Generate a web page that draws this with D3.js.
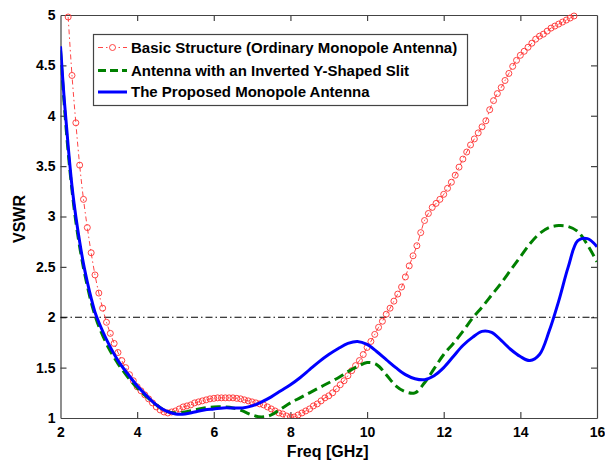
<!DOCTYPE html>
<html>
<head>
<meta charset="utf-8">
<script src="https://cdn.jsdelivr.net/npm/d3@7"></script>
<style>
  body { margin: 0; background: #fff; }
  svg { display: block; }
  text { font-family: "Liberation Sans", Arial, sans-serif; font-weight: bold; fill: #000; }
</style>
</head>
<body>
<svg id="chart" width="605" height="463"></svg>
<script>
// Basic structure (red circles), sampled every 0.1 GHz from 2.2 to 15.4
const basicFreq = d3.range(22, 155).map(d => d / 10);
const basicVswr = [
  4.98, 4.40, 3.93, 3.51, 3.17, 2.89, 2.64, 2.42, 2.24, 2.09,
  1.95, 1.84, 1.74, 1.65, 1.57, 1.50, 1.43, 1.37, 1.31, 1.27,
  1.23, 1.19, 1.15, 1.11, 1.08, 1.06, 1.05, 1.06, 1.07, 1.09,
  1.11, 1.12, 1.13, 1.15, 1.16, 1.17, 1.18, 1.19, 1.195, 1.20,
  1.20, 1.20, 1.20, 1.20, 1.195, 1.19, 1.18, 1.17, 1.16, 1.15,
  1.14, 1.13, 1.11, 1.09, 1.07, 1.05, 1.04, 1.02, 1.01, 1.01,
  1.03, 1.05, 1.07, 1.09, 1.12, 1.14, 1.17, 1.20, 1.22, 1.25,
  1.29, 1.33, 1.37, 1.42, 1.47, 1.52, 1.57, 1.63, 1.70, 1.76,
  1.83, 1.90, 1.96, 2.03, 2.09, 2.16, 2.23, 2.30, 2.40, 2.51,
  2.61, 2.71, 2.84, 2.96, 3.03, 3.09, 3.13, 3.17, 3.22, 3.28,
  3.34, 3.41, 3.49, 3.57, 3.64, 3.71, 3.77, 3.83, 3.89, 3.95,
  4.06, 4.15, 4.22, 4.28, 4.35, 4.42, 4.49, 4.55, 4.60, 4.64,
  4.68, 4.72, 4.76, 4.79, 4.81, 4.84, 4.87, 4.89, 4.91, 4.93,
  4.95, 4.97, 4.99
];

// Slit antenna (green dashed) and proposed antenna (blue)
const freq = [2.0, 2.1, 2.2, 2.3, 2.4, 2.5, 2.6, 2.7, 2.8, 2.9, 3.0,
  3.25, 3.5, 3.75, 4.0, 4.25, 4.5, 4.75, 5.0, 5.25, 5.5, 5.75, 6.0,
  6.25, 6.5, 6.75, 7.0, 7.25, 7.5, 7.75, 8.0, 8.25, 8.5, 8.75, 9.0,
  9.25, 9.5, 9.75, 10.0, 10.25, 10.5, 10.75, 11.0, 11.25, 11.5, 11.75, 12.0,
  12.25, 12.5, 12.75, 13.0, 13.25, 13.5, 13.75, 14.0, 14.25, 14.5, 14.75, 15.0,
  15.25, 15.5, 15.75, 16.0];
const slitVswr = [4.65, 4.10, 3.64, 3.26, 2.95, 2.70, 2.49, 2.31, 2.15, 2.02, 1.91,
  1.70, 1.54, 1.41, 1.30, 1.21, 1.13, 1.07, 1.05, 1.06, 1.08, 1.10, 1.11,
  1.11, 1.10, 1.07, 1.03, 1.01, 1.03, 1.09, 1.15, 1.20, 1.25, 1.30, 1.35,
  1.40, 1.46, 1.51, 1.55, 1.53, 1.43, 1.32, 1.26, 1.25, 1.35, 1.49, 1.63,
  1.74, 1.86, 1.99, 2.10, 2.22, 2.34, 2.47, 2.60, 2.73, 2.83, 2.89, 2.91,
  2.90, 2.85, 2.72, 2.55];
const proposedVswr = [4.69, 4.15, 3.70, 3.30, 3.00, 2.75, 2.53, 2.35, 2.19, 2.05, 1.95,
  1.74, 1.57, 1.44, 1.32, 1.22, 1.13, 1.07, 1.04, 1.04, 1.06, 1.08, 1.09,
  1.10, 1.10, 1.10, 1.12, 1.16, 1.21, 1.27, 1.33, 1.40, 1.48, 1.56, 1.63,
  1.69, 1.74, 1.76, 1.73, 1.66, 1.58, 1.50, 1.43, 1.39, 1.38, 1.42, 1.50,
  1.61, 1.72, 1.80, 1.86, 1.85, 1.77, 1.68, 1.61, 1.57, 1.63, 1.86, 2.16,
  2.50, 2.76, 2.78, 2.70];

const xTicks = [2, 4, 6, 8, 10, 12, 14, 16];
const yTicks = [1, 1.5, 2, 2.5, 3, 3.5, 4, 4.5, 5];
const refLevel = 2;
const legendLabels = [
  "Basic Structure (Ordinary Monopole Antenna)",
  "Antenna with an Inverted Y-Shaped Slit",
  "The Proposed Monopole Antenna"
];

const basicData = basicFreq.map((f, i) => ({ x: f, y: basicVswr[i] }));
const slitData = freq.map((f, i) => ({ x: f, y: slitVswr[i] }));
const proposedData = freq.map((f, i) => ({ x: f, y: proposedVswr[i] }));

const box = { left: 60.5, right: 597, top: 15, bottom: 418 };

const svg = d3.select("#chart");

const xScale = d3.scaleLinear().domain([2, 16]).range([box.left, box.right]);
const yScale = d3.scaleLinear().domain([1, 5]).range([box.bottom, box.top]);

svg.append("defs").append("clipPath").attr("id", "plotclip")
  .append("rect")
  .attr("x", box.left).attr("y", box.top - 4)
  .attr("width", box.right - box.left).attr("height", box.bottom - box.top + 4);

/**
 * Axes with inward ticks on all four sides
 */
const axisColor = "#444";
const fmt = d => d3.format("~g")(d);

const gBottom = svg.append("g")
  .attr("transform", `translate(0,${box.bottom})`)
  .call(d3.axisBottom(xScale).tickValues(xTicks).tickFormat(fmt).tickSizeInner(-6).tickSizeOuter(0).tickPadding(9));
const gTop = svg.append("g")
  .attr("transform", `translate(0,${box.top})`)
  .call(d3.axisTop(xScale).tickValues(xTicks).tickFormat("").tickSizeInner(-6).tickSizeOuter(0));
const gLeft = svg.append("g")
  .attr("transform", `translate(${box.left},0)`)
  .call(d3.axisLeft(yScale).tickValues(yTicks).tickFormat(fmt).tickSizeInner(-6).tickSizeOuter(0).tickPadding(5));
const gRight = svg.append("g")
  .attr("transform", `translate(${box.right},0)`)
  .call(d3.axisRight(yScale).tickValues(yTicks).tickFormat("").tickSizeInner(-6).tickSizeOuter(0));

[gBottom, gTop, gLeft, gRight].forEach(g => {
  g.selectAll("path, line").attr("stroke", axisColor).attr("stroke-width", 1.2);
  g.selectAll("text")
    .attr("fill", "#000")
    .style("font-family", "'Liberation Sans', Arial, sans-serif")
    .style("font-weight", "bold")
    .style("font-size", "14px");
});
// drop ticks that sit on the box corners
gBottom.selectAll(".tick line").filter(d => d === 2 || d === 16).remove();
gTop.selectAll(".tick line").filter(d => d === 2 || d === 16).remove();
gLeft.selectAll(".tick line").filter(d => d === 1 || d === 5).remove();
gRight.selectAll(".tick line").filter(d => d === 1 || d === 5).remove();

/**
 * Reference line at VSWR = 2
 */
svg.append("line")
  .attr("x1", xScale(2)).attr("x2", xScale(16))
  .attr("y1", yScale(refLevel)).attr("y2", yScale(refLevel))
  .attr("stroke", "#000").attr("stroke-width", 1)
  .attr("stroke-dasharray", "7,3,1.5,3");

/**
 * Curves
 */
const plot = svg.append("g").attr("clip-path", "url(#plotclip)");
const line = d3.line().x(d => xScale(d.x)).y(d => yScale(d.y)).curve(d3.curveCatmullRom);

plot.append("path").datum(basicData)
  .attr("d", line).attr("fill", "none")
  .attr("stroke", "#ff3030").attr("stroke-width", 0.9)
  .attr("stroke-dasharray", "5,3,1.5,3");

plot.selectAll(".basic_marker").data(basicData).enter()
  .append("circle").attr("class", "basic_marker")
  .attr("cx", d => xScale(d.x)).attr("cy", d => yScale(d.y))
  .attr("r", 3).attr("fill", "none")
  .attr("stroke", "#ff3030").attr("stroke-width", 0.9);

plot.append("path").datum(slitData)
  .attr("d", line).attr("fill", "none")
  .attr("stroke", "#008000").attr("stroke-width", 3)
  .attr("stroke-dasharray", "10,5");

plot.append("path").datum(proposedData)
  .attr("d", line).attr("fill", "none")
  .attr("stroke", "#0000ff").attr("stroke-width", 3);

/**
 * Axis labels
 */
svg.append("text")
  .attr("x", (box.left + box.right) / 2 - 1).attr("y", 457)
  .attr("text-anchor", "middle").style("font-size", "16px")
  .text("Freq [GHz]");

svg.append("text")
  .attr("transform", `translate(25,219) rotate(-90)`)
  .attr("text-anchor", "middle").style("font-size", "16px")
  .text("VSWR");

/**
 * Legend
 */
const legend = svg.append("g");
legend.append("rect")
  .attr("x", 93.5).attr("y", 34.5).attr("width", 374).attr("height", 71)
  .attr("fill", "#fff").attr("stroke", "#444").attr("stroke-width", 1.2);

const rowY = [47.5, 70.5, 92];
const legendStyles = [
  { stroke: "#ff3030", width: 0.9, dash: "5,3,1.5,3", marker: true },
  { stroke: "#008000", width: 3, dash: "8,4", marker: false },
  { stroke: "#0000ff", width: 3, dash: null, marker: false }
];

legendLabels.forEach((label, i) => {
  const s = legendStyles[i];
  legend.append("line")
    .attr("x1", 98).attr("x2", 127)
    .attr("y1", rowY[i]).attr("y2", rowY[i])
    .attr("stroke", s.stroke).attr("stroke-width", s.width)
    .attr("stroke-dasharray", s.dash);
  if (s.marker) {
    legend.append("circle")
      .attr("cx", 112.5).attr("cy", rowY[i]).attr("r", 3)
      .attr("fill", "#fff").attr("stroke", s.stroke).attr("stroke-width", 0.9);
  }
  legend.append("text")
    .attr("x", 131).attr("y", rowY[i]).attr("dy", "0.36em")
    .style("font-size", "15px")
    .text(label);
});
</script>
</body>
</html>
